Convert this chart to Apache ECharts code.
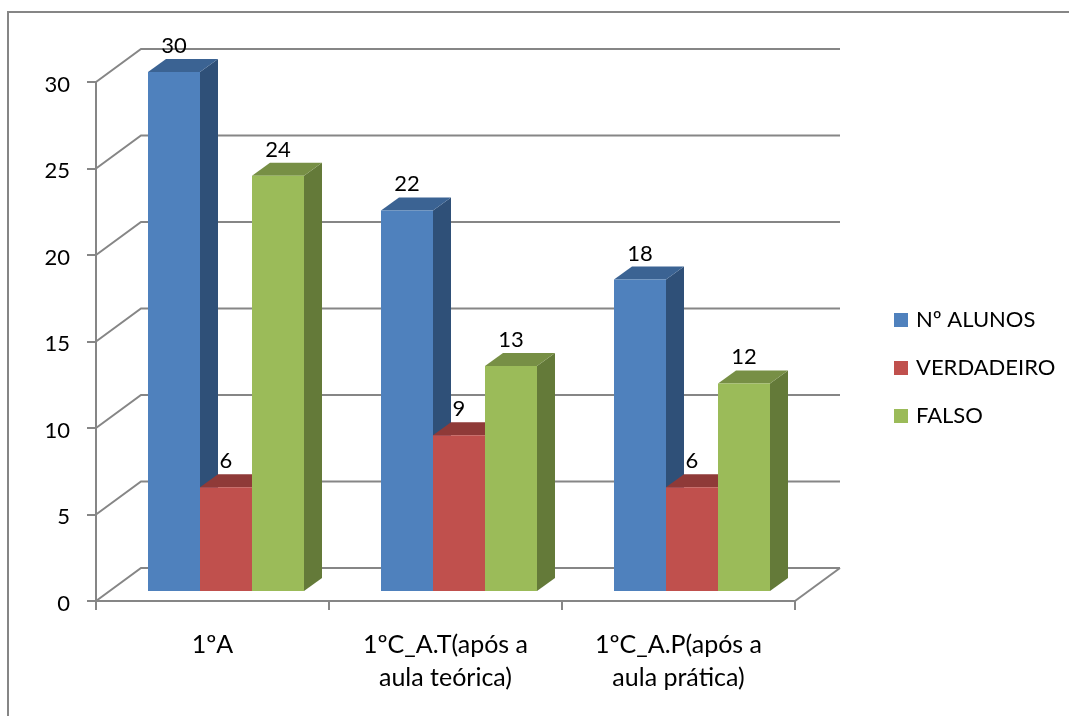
<!DOCTYPE html>
<html>
<head>
<meta charset="utf-8">
<style>html,body{margin:0;padding:0;background:#fff}#chart{width:1069px;height:716px}</style>
<script src="https://cdn.jsdelivr.net/npm/echarts@6/dist/echarts.min.js"></script>
</head>
<body>
<div id="chart"></div>
<script>
const categories = ['1ºA', '1ºC_A.T(após a\naula teórica)', '1ºC_A.P(após a\naula prática)'];
const alunos = [30, 22, 18];
const verdadeiro = [6, 9, 6];
const falso = [24, 13, 12];
const valueTicks = [0, 5, 10, 15, 20, 25, 30];

const FONT = 'Lato, "Noto Sans", sans-serif';
const FONT_SIZE = 22;
const CATEGORY_FONT_SIZE = 25;
const AXIS_GREY = '#868686';

// Oblique projection: wall depth, and how far the bars stand in from the front edge
const WALL_DX = 45, WALL_DY = -33;
const PLANE_DX = 13.5, PLANE_DY = -10;
const BAR_DX = 18, BAR_DY = -13;
const BAR_SHARE = 52 / 233;

const palettes = [
  { front: '#4F81BD', top: '#3B6393', side: '#2F5078' },
  { front: '#C0504D', top: '#8F3A38', side: '#7A302E' },
  { front: '#9BBB59', top: '#778F45', side: '#647A39' }
];

function poly(points, fill) {
  return { type: 'polygon', shape: { points }, style: { fill } };
}

// One prism per value, with its number above the top face
function barRenderer(seriesIndex) {
  const colors = palettes[seriesIndex];
  return function (params, api) {
    const cat = api.value(0), val = api.value(1);
    const base = api.coord([cat, 0]);
    const peak = api.coord([cat, val]);
    const w = api.size([1, 0])[0] * BAR_SHARE;
    const x0 = base[0] - 1.5 * w + seriesIndex * w + PLANE_DX;
    const x1 = x0 + w;
    const yB = base[1] + PLANE_DY;
    const yT = peak[1] + PLANE_DY;
    return {
      type: 'group',
      children: [
        poly([[x1, yT], [x1 + BAR_DX, yT + BAR_DY], [x1 + BAR_DX, yB + BAR_DY], [x1, yB]], colors.side),
        poly([[x0, yT], [x0 + BAR_DX, yT + BAR_DY], [x1 + BAR_DX, yT + BAR_DY], [x1, yT]], colors.top),
        poly([[x0, yT], [x1, yT], [x1, yB], [x0, yB]], colors.front)
      ]
    };
  };
}

// Value numbers go in their own pass so no neighbouring prism paints over them
function labelRenderer(seriesIndex) {
  return function (params, api) {
    const cat = api.value(0), val = api.value(1);
    const base = api.coord([cat, 0]);
    const peak = api.coord([cat, val]);
    const w = api.size([1, 0])[0] * BAR_SHARE;
    const xc = base[0] - 1.5 * w + seriesIndex * w + PLANE_DX + w / 2;
    return {
      type: 'text',
      style: {
        text: String(val), x: xc, y: peak[1] + PLANE_DY + BAR_DY - 13,
        align: 'center', verticalAlign: 'middle',
        font: FONT_SIZE + 'px ' + FONT, fill: '#000'
      }
    };
  };
}

// Side wall and back wall rules for each tick value
function wallRenderer(params, api) {
  const p = api.coord([0, api.value(0)]);
  const left = params.coordSys.x;
  const right = left + params.coordSys.width;
  const back = p[1] + WALL_DY;
  const children = [
    { type: 'polyline',
      shape: { points: [[left, p[1]], [left + WALL_DX, back], [right + WALL_DX, back]] },
      style: { fill: null, stroke: AXIS_GREY, lineWidth: 2 } }
  ];
  if (api.value(0) === 0) {
    children.push({ type: 'line',
      shape: { x1: right, y1: p[1], x2: right + WALL_DX, y2: back },
      style: { stroke: AXIS_GREY, lineWidth: 2 } });
  }
  return { type: 'group', children };
}

const seriesNames = ['Nº ALUNOS', 'VERDADEIRO', 'FALSO'];
const seriesValues = [alunos, verdadeiro, falso];

const series = [{
  type: 'custom',
  name: 'walls',
  coordinateSystem: 'cartesian2d',
  renderItem: wallRenderer,
  data: valueTicks.map(v => [v]),
  encode: { y: 0 },
  silent: true,
  z: 1
}];
seriesValues.forEach((values, i) => {
  series.push({
    type: 'custom',
    name: seriesNames[i],
    coordinateSystem: 'cartesian2d',
    renderItem: barRenderer(i),
    itemStyle: { color: palettes[i].front },
    data: values.map((v, c) => [c, v]),
    encode: { x: 0, y: 1 },
    z: 2 + i
  });
});
seriesValues.forEach((values, i) => {
  series.push({
    type: 'custom',
    name: 'labels' + i,
    coordinateSystem: 'cartesian2d',
    renderItem: labelRenderer(i),
    data: values.map((v, c) => [c, v]),
    encode: { x: 0, y: 1 },
    silent: true,
    z: 10
  });
});

const chart = echarts.init(document.getElementById('chart'), null, { renderer: 'canvas' });
chart.setOption({
  animation: false,
  backgroundColor: '#fff',
  grid: { left: 96, right: 274, top: 82, bottom: 115, containLabel: false },
  xAxis: {
    type: 'category',
    data: categories,
    axisLine: { show: true, lineStyle: { color: AXIS_GREY, width: 2 } },
    axisTick: { show: true, length: 9, lineStyle: { color: AXIS_GREY, width: 2 } },
    axisLabel: { interval: 0, margin: 27, lineHeight: 33, color: '#000', fontFamily: FONT, fontSize: CATEGORY_FONT_SIZE },
    splitLine: { show: false }
  },
  yAxis: {
    type: 'value',
    min: 0,
    max: 30,
    interval: 5,
    axisLine: { show: true, lineStyle: { color: AXIS_GREY, width: 2 } },
    axisTick: { show: true, length: 9, lineStyle: { color: AXIS_GREY, width: 2 } },
    axisLabel: { margin: 26, verticalAlign: 'top', lineHeight: 5, color: '#000', fontFamily: FONT, fontSize: FONT_SIZE },
    splitLine: { show: false }
  },
  legend: {
    orient: 'vertical',
    left: 889,
    top: 304,
    icon: 'rect',
    itemWidth: 14,
    itemHeight: 14,
    itemGap: 26,
    selectedMode: false,
    data: seriesNames,
    textStyle: { color: '#000', fontFamily: FONT, fontSize: FONT_SIZE, padding: [0, 0, 0, 3] }
  },
  graphic: [{
    type: 'polyline',
    silent: true,
    z: 0,
    shape: { points: [[8, 716], [8, 12], [1069, 12]] },
    style: { fill: null, stroke: AXIS_GREY, lineWidth: 2 }
  }],
  series
});
</script>
</body>
</html>
